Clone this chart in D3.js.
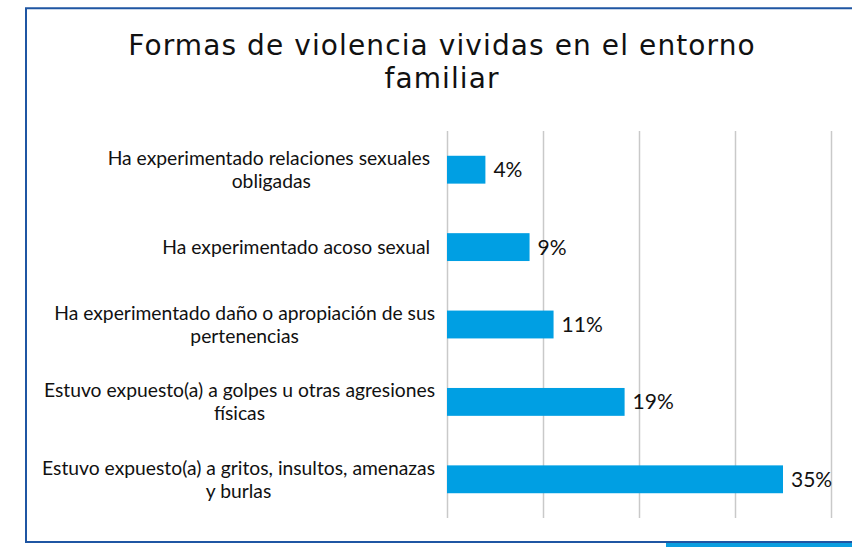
<!DOCTYPE html>
<html>
<head>
<meta charset="utf-8">
<script src="https://cdn.jsdelivr.net/npm/d3@7"></script>
<style>
    body { margin: 0; background: #fff; }
    svg { display: block; }
</style>
</head>
<body>
<div id="chart"></div>
<script>
// datos del gráfico
var titleLines = ['Formas de violencia vividas en el entorno', 'familiar']
var categories = [
    'Ha experimentado relaciones sexuales \nobligadas',
    'Ha experimentado acoso sexual ',
    'Ha experimentado daño o apropiación de sus\npertenencias',
    'Estuvo expuesto(a) a golpes u otras agresiones\nfísicas',
    'Estuvo expuesto(a) a gritos, insultos, amenazas\ny burlas'
]
var values = [4, 8.6, 11.1, 18.5, 35]
var xTicks = [0, 10, 20, 30, 40]

var w = 852,
    h = 547,
    plotLeft = 447,
    plotRight = 831,
    plotTop = 131,
    plotBottom = 518,
    labelRight = 435

var svg = d3.select('#chart').append('svg').attr('width', w).attr('height', h)

// marco
svg.append('path')
    .attr('d', 'M852,8.3 H26 V542 H852')
    .attr('fill', 'none')
    .attr('stroke', '#1f56a3')
    .attr('stroke-width', 2)
svg.append('rect')
    .attr('x', 666).attr('y', 543)
    .attr('width', 186).attr('height', 4)
    .attr('fill', '#0a9ee0')

// título
svg.append('g')
    .selectAll('text')
    .data(titleLines)
    .enter()
    .append('text')
    .attr('x', 442)
    .attr('y', function (d, i) { return 55 + i * 33 })
    .attr('text-anchor', 'middle')
    .style('font-family', '"DejaVu Sans", sans-serif')
    .style('font-size', '28px')
    .style('letter-spacing', '1.1px')
    .style('fill', '#111')
    .text(function (d) { return d })

var x = d3.scaleLinear().domain([0, 40]).range([plotLeft, plotRight])
var y = d3.scaleBand()
    .domain(categories)
    .range([plotTop, plotBottom])
    .paddingInner(0.64)
    .paddingOuter(0.32)

// líneas de la cuadrícula
var grid = svg.append('g')
    .attr('transform', 'translate(0,' + plotBottom + ')')
    .call(d3.axisBottom(x).tickValues(xTicks).tickSize(-(plotBottom - plotTop)).tickFormat(''))
grid.select('.domain').remove()
grid.selectAll('.tick line').attr('stroke', '#c9c9c9').attr('stroke-width', 1.5)

// barras
svg.append('g')
    .selectAll('rect')
    .data(values)
    .enter()
    .append('rect')
    .attr('x', x(0))
    .attr('y', function (d, i) { return y(categories[i]) })
    .attr('width', function (d) { return x(d) - x(0) })
    .attr('height', y.bandwidth())
    .attr('fill', '#009fe3')

// etiquetas de valores
svg.append('g')
    .selectAll('text')
    .data(values)
    .enter()
    .append('text')
    .attr('x', function (d) { return x(d) + 8 })
    .attr('y', function (d, i) { return y(categories[i]) + y.bandwidth() / 2 })
    .attr('dy', '0.36em')
    .style('font-family', 'Lato, sans-serif')
    .style('font-size', '21px')
    .style('fill', '#111')
    .text(function (d) { return Math.round(d) + '%' })

// etiquetas de categorías
var lineH = 23
var cats = svg.append('g')
    .selectAll('text')
    .data(categories)
    .enter()
    .append('text')
    .style('font-family', 'Lato, sans-serif')
    .style('font-size', '19.3px')
    .style('fill', '#111')
    .style('white-space', 'pre')
    .attr('text-anchor', 'middle')

cats.each(function (d) {
    var t = d3.select(this),
        lines = d.split('\n'),
        cy = y(d) + y.bandwidth() / 2,
        y0 = cy - (lines.length - 1) * lineH / 2
    lines.forEach(function (l, i) {
        t.append('tspan')
            .attr('y', y0 + i * lineH)
            .attr('dy', '0.35em')
            .text(l)
    })
    // bloque alineado a la derecha, líneas centradas
    var bw = d3.max(t.selectAll('tspan').nodes(), function (n) { return n.getComputedTextLength() })
    t.selectAll('tspan').attr('x', labelRight - bw / 2)
})
</script>
</body>
</html>
